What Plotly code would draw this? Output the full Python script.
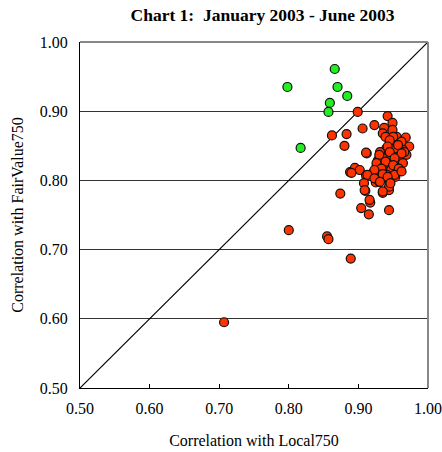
import plotly.graph_objects as go

# Points above the diagonal (green)
green_local = [0.866, 0.798, 0.870, 0.884, 0.859, 0.857, 0.817]
green_fair = [0.961, 0.935, 0.935, 0.922, 0.912, 0.899, 0.847]

# Points (red)
red_local = [0.899, 0.862, 0.883, 0.906, 0.923, 0.942, 0.880, 0.888, 0.874, 0.910,
             0.935, 0.944, 0.917, 0.904, 0.915, 0.944, 0.800, 0.855, 0.857, 0.889,
             0.707, 0.949, 0.937, 0.935, 0.949, 0.939, 0.955, 0.968, 0.945, 0.959,
             0.973, 0.964, 0.952, 0.940, 0.931, 0.912, 0.969, 0.957, 0.945, 0.935,
             0.928, 0.940, 0.952, 0.926, 0.895, 0.902, 0.890, 0.935, 0.947, 0.959,
             0.921, 0.911, 0.941, 0.953, 0.931, 0.908, 0.925, 0.930, 0.945, 0.944,
             0.909, 0.935, 0.950, 0.945, 0.962, 0.957, 0.942, 0.911, 0.945, 0.966,
             0.930, 0.962, 0.952, 0.939, 0.926, 0.950, 0.964, 0.933, 0.958, 0.923,
             0.913, 0.935, 0.952, 0.962, 0.942, 0.923, 0.931, 0.946, 0.916]
red_fair = [0.899, 0.865, 0.867, 0.875, 0.880, 0.893, 0.850, 0.812, 0.781, 0.785,
            0.782, 0.786, 0.768, 0.760, 0.751, 0.757, 0.728, 0.719, 0.715, 0.687,
            0.595, 0.883, 0.876, 0.868, 0.873, 0.863, 0.863, 0.862, 0.854, 0.854,
            0.849, 0.844, 0.846, 0.846, 0.841, 0.839, 0.837, 0.834, 0.837, 0.832,
            0.829, 0.825, 0.822, 0.820, 0.818, 0.815, 0.811, 0.817, 0.815, 0.814,
            0.811, 0.807, 0.808, 0.805, 0.805, 0.796, 0.797, 0.798, 0.796, 0.791,
            0.786, 0.784, 0.863, 0.858, 0.856, 0.851, 0.849, 0.840, 0.841, 0.841,
            0.837, 0.839, 0.832, 0.827, 0.825, 0.822, 0.825, 0.817, 0.817, 0.815,
            0.808, 0.809, 0.808, 0.813, 0.805, 0.803, 0.798, 0.796, 0.772]

axis_range = [0.5, 1.0]
tick_vals = [0.5, 0.6, 0.7, 0.8, 0.9, 1.0]
tick_text = ["0.50", "0.60", "0.70", "0.80", "0.90", "1.00"]

FONT = "Liberation Serif, Times New Roman, serif"

fig = go.Figure()
fig.add_trace(go.Scatter(x=axis_range, y=axis_range, mode="lines",
                         line=dict(color="black", width=1.2), hoverinfo="skip",
                         showlegend=False))
fig.add_trace(go.Scatter(x=red_local, y=red_fair, mode="markers",
                         marker=dict(size=9, color="#FF3300",
                                     line=dict(color="#111111", width=1.2)),
                         showlegend=False))
fig.add_trace(go.Scatter(x=green_local, y=green_fair, mode="markers",
                         marker=dict(size=9, color="#22EE22",
                                     line=dict(color="#111111", width=1.2)),
                         showlegend=False))

fig.update_layout(
    width=442, height=452,
    margin=dict(l=79.5, r=14, t=42, b=64, autoexpand=False),
    paper_bgcolor="white", plot_bgcolor="white",
    font=dict(family=FONT, size=16, color="black"),
    title=dict(text="<b>Chart 1:&nbsp; January 2003 - June 2003</b>",
               x=262.5 / 442, xanchor="center", xref="container",
               y=1 - 15 / 452, yanchor="middle", yref="container",
               font=dict(family=FONT, size=17.5, color="black")),
    xaxis=dict(range=axis_range, tickvals=tick_vals, ticktext=tick_text,
               showgrid=False, zeroline=False, showline=True, linecolor="black",
               linewidth=1.2, ticks="inside", ticklen=4, tickcolor="black",
               ticklabelstandoff=6, automargin=False,
               title=dict(text="Correlation with Local750", standoff=18,
                          font=dict(family=FONT, size=16))),
    yaxis=dict(range=axis_range, tickvals=tick_vals, ticktext=tick_text,
               showgrid=True, gridcolor="#333333", gridwidth=1,
               zeroline=False, showline=True, linecolor="black", linewidth=1.2,
               ticks="", ticklabelstandoff=8, automargin=False,
               title=dict(text="Correlation with FairValue750", standoff=12,
                          font=dict(family=FONT, size=16))),
    shapes=[
        dict(type="line", xref="paper", yref="paper", x0=0, x1=1, y0=1, y1=1,
             line=dict(color="#888888", width=2)),
        dict(type="line", xref="paper", yref="paper", x0=1, x1=1, y0=0, y1=1,
             line=dict(color="#888888", width=2)),
    ],
)

fig.write_html("out.html", config={"displayModeBar": False},
               post_script="document.body.style.margin='0';document.body.style.padding='0';")
